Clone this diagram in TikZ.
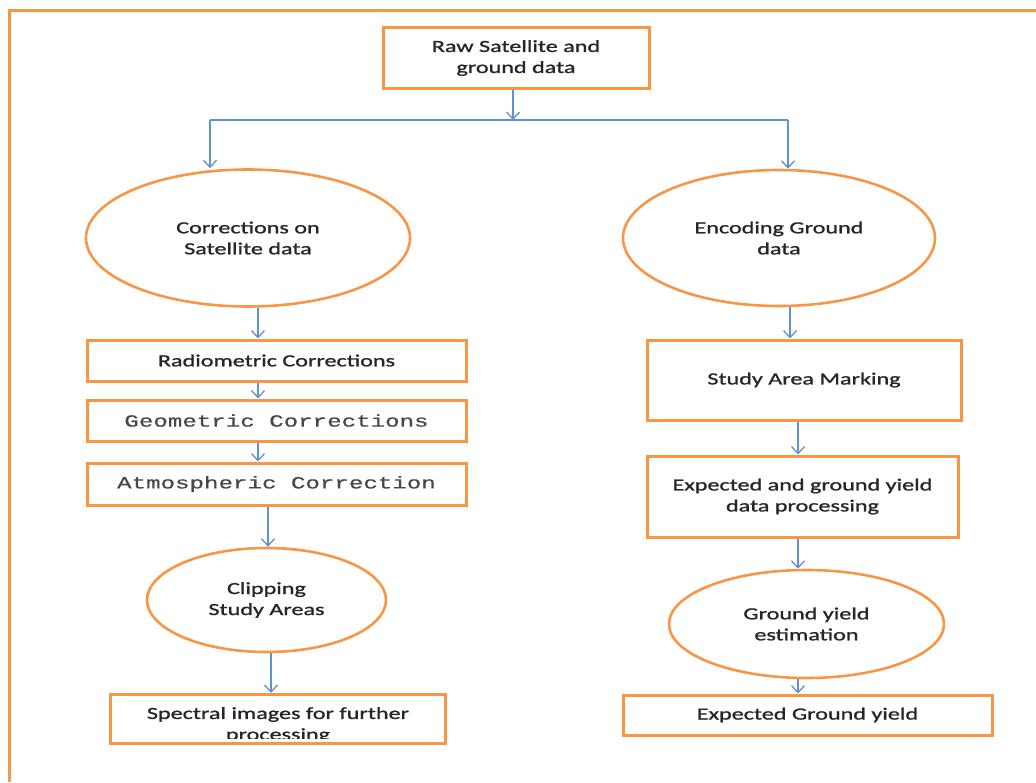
\documentclass[tikz,border=0pt]{standalone}
\usepackage{fontspec}
\setmainfont{Carlito}[FakeStretch=1.42,FakeBold=1.2]
\newfontfamily\monof{Liberation Mono}[FakeStretch=1.42,FakeBold=0.6]
\usetikzlibrary{shapes.geometric,arrows.meta}
\definecolor{orng}{HTML}{F79646}
\definecolor{blu}{HTML}{5F92D2}
\definecolor{txtc}{HTML}{262626}
\tikzset{
  box/.style={draw=orng, line width=3pt, rectangle, inner sep=0pt, align=center, text=txtc, font=\fontsize{17}{21}\selectfont},
  ell/.style={draw=orng, line width=2.6pt, ellipse, inner sep=0pt, align=center, text=txtc, font=\fontsize{17}{21}\selectfont},
  mono/.style={font=\monof\fontsize{17}{21}\selectfont, text=black!72},
  txt/.style={align=center, text=txtc, font=\fontsize{17}{21}\selectfont, inner sep=0pt},
  arr/.style={draw=blu, line width=1.3pt, -{Straight Barb[length=7pt,width=13pt]}},
  ln/.style={draw=blu, line width=1.3pt},
  frame/.style={draw=orng, line width=3pt}
}
\begin{document}
\begin{tikzpicture}[x=1pt,y=-1pt]
\useasboundingbox (0,0) rectangle (1036,782);
% outer frame
\coordinate (f1) at (9,782);
\coordinate (f2) at (9,10);
\coordinate (f3) at (1040,10);
\draw[frame] (f1) -- (f2) -- (f3);

% top box
\node[box, minimum width=266pt, minimum height=61pt] (top) at (516,58) {Raw Satellite and\\ground data};

% split
\coordinate (hm) at (513,120);
\coordinate (hl) at (210,120);
\coordinate (hr) at (788,120);

% left column
\node[ell, minimum width=324pt, minimum height=137pt] (corr) at (248,238) {Corrections on\\Satellite data};
\node[box, minimum width=379pt, minimum height=41pt] (radio) at (276.5,360.5) {Radiometric Corrections};
\node[box, minimum width=379pt, minimum height=41pt, mono] (geo) at (276.5,420.5) {Geometric Corrections};
\node[box, minimum width=379pt, minimum height=42pt, mono] (atm) at (276.5,484) {Atmospheric Correction};
\node[ell, minimum width=239pt, minimum height=104pt] (clip) at (266.5,600) {Clipping\\Study Areas};
\node[box, minimum width=335pt, minimum height=49pt] (spec) at (278,719) {};
\begin{scope}
\clip (112,696) rectangle (444,738);
\node[txt] (spectxt) at (278,725) {Spectral images for further\\processing};
\end{scope}

% right column
\node[ell, minimum width=312pt, minimum height=136pt] (enc) at (779,238) {Encoding Ground\\data};
\node[box, minimum width=314pt, minimum height=80pt] (study) at (804,380) {Study Area Marking};
\node[box, minimum width=311pt, minimum height=81pt] (expd) at (802.5,496.5) {Expected and ground yield\\data processing};
\node[ell, minimum width=275pt, minimum height=108pt] (gye) at (806.5,624) {Ground yield\\estimation};
\node[box, minimum width=369pt, minimum height=40pt] (egy) at (807.5,715) {Expected Ground yield};

% connectors
\coordinate (xa) at (258,0);
\coordinate (xb) at (268,0);
\coordinate (xc) at (271,0);
\coordinate (xd) at (790,0);
\coordinate (xe) at (798,0);

\draw[arr] (hm |- top.south) -- (hm);
\draw[ln] (hl) -- (hr);
\draw[arr] (hl) -- (hl |- corr.north);
\draw[arr] (hr) -- (hr |- enc.north);

\draw[arr] (corr.south -| xa) -- (radio.north -| xa);
\draw[arr] (radio.south -| xa) -- (geo.north -| xa);
\draw[arr] (geo.south -| xa) -- (atm.north -| xa);
\draw[arr] (atm.south -| xb) -- (clip.north -| xb);
\draw[arr] (clip.south -| xc) -- (spec.north -| xc);

\draw[arr] (enc.south -| xd) -- (study.north -| xd);
\draw[arr] (study.south -| xe) -- (expd.north -| xe);
\draw[arr] (expd.south -| xe) -- (gye.north -| xe);
\draw[arr] (gye.south -| xe) -- (egy.north -| xe);
\end{tikzpicture}
\end{document}
